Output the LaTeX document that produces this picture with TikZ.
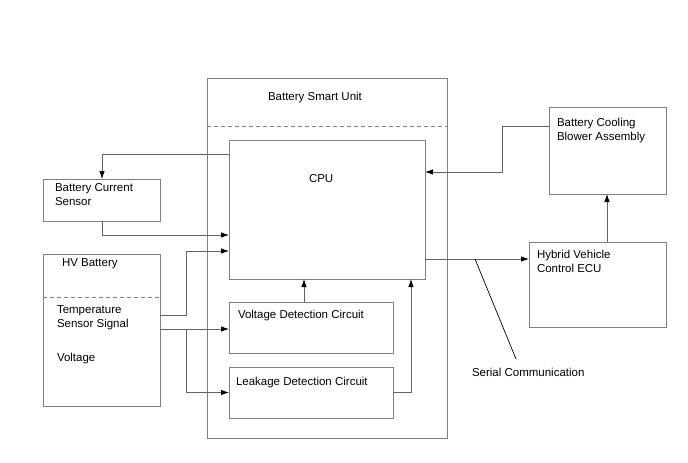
\documentclass[tikz,border=0pt]{standalone}
\usepackage{fontspec}
\setmainfont{Liberation Sans}
\usetikzlibrary{arrows.meta}
\definecolor{boxgray}{RGB}{128,128,128}
\definecolor{linegray}{RGB}{100,100,100}
\begin{document}
\begin{tikzpicture}[x=1pt,y=-1pt,
  box/.style={draw=boxgray,line width=0.9pt,anchor=north west,inner sep=0,outer sep=0},
  lbl/.style={anchor=north west,inner sep=0,outer sep=0,align=left,font=\fontsize{11.5}{14}\selectfont,text=black},
  conn/.style={draw=linegray,line width=0.8pt},
  arr/.style={conn,-{Latex[length=8pt,width=5.5pt,color=black]}},
  sepline/.style={draw=boxgray,line width=0.8pt,dash pattern=on 4pt off 3pt}]
\useasboundingbox (0,0) rectangle (688,463);
% boxes
\node[box,minimum width=240,minimum height=360] (bsu) at (207,78) {};
\node[box,minimum width=196,minimum height=139] (cpu) at (229,140) {};
\node[box,minimum width=164,minimum height=51] (vdc) at (229,302) {};
\node[box,minimum width=164,minimum height=51] (ldc) at (229,367) {};
\node[box,minimum width=117,minimum height=42] (bcs) at (43,179) {};
\node[box,minimum width=117,minimum height=152] (hv) at (43,254) {};
\node[box,minimum width=117,minimum height=87] (blw) at (549,107) {};
\node[box,minimum width=137,minimum height=85] (ecu) at (529,242) {};
% dashed separators
\draw[sepline] ([yshift=-48pt]bsu.north west) -- ([yshift=-48pt]bsu.north east);
\draw[sepline] ([yshift=-43pt]hv.north west) -- ([yshift=-43pt]hv.north east);
% labels
\node[lbl] (tbsu) at (268,92) {Battery Smart Unit};
\node[lbl] (tcpu) at (309,174) {CPU};
\node[lbl] (tvdc) at (238,310) {Voltage Detection Circuit};
\node[lbl] (tldc) at (236,377) {Leakage Detection Circuit};
\node[lbl] (tbcs) at (55,183) {Battery Current\\Sensor};
\node[lbl] (thv) at (62,259) {HV Battery};
\node[lbl] (ttemp) at (57,306) {Temperature\\Sensor Signal};
\node[lbl] (tvolt) at (57,353) {Voltage};
\node[lbl] (tblw) at (557,118) {Battery Cooling\\Blower Assembly};
\node[lbl] (tecu) at (537,250) {Hybrid Vehicle\\Control ECU};
\node[lbl] (tser) at (472,368) {Serial Communication};
% connection points
\coordinate (cpuA) at ([yshift=-14pt]cpu.north west);
\coordinate (cpuB) at ([yshift=-95pt]cpu.north west);
\coordinate (cpuC) at ([yshift=-111pt]cpu.north west);
\coordinate (cpuD) at ([yshift=-32pt]cpu.north east);
\coordinate (cpuE) at ([yshift=-119pt]cpu.north east);
\coordinate (bcsT) at ([xshift=59pt]bcs.north west);
\coordinate (bcsB) at ([xshift=59pt]bcs.south west);
\coordinate (hvA) at ([yshift=-61pt]hv.north east);
\coordinate (hvB) at ([yshift=-75pt]hv.north east);
\coordinate (brA) at ([xshift=26pt]hvA);
\coordinate (brB) at ([xshift=26pt]hvB);
\coordinate (vdcT) at ([xshift=75pt]vdc.north west);
\coordinate (cpuS) at ([xshift=-14pt]cpu.south east);
\coordinate (blwW) at ([yshift=-19pt]blw.north west);
\coordinate (blwJ) at ([xshift=-47pt]blwW);
\coordinate (ecuT) at ([xshift=78pt]ecu.north west);
\coordinate (serA) at (475,259);
\coordinate (serB) at (516,359);
% connectors
\draw[arr] (cpuA) -| (bcsT);
\draw[arr] (bcsB) |- (cpuB);
\draw[arr] (hvA) -- (brA) |- (cpuC);
\draw[arr] (hvB) -- (hvB -| vdc.west);
\draw[arr] (brB) |- (ldc.west);
\draw[arr] (vdcT) -- (vdcT |- cpu.south);
\draw[arr] (ldc.east) -| (cpuS);
\draw[arr] (blwW) -- (blwJ) |- (cpuD);
\draw[arr] (cpuE) -- (cpuE -| ecu.west);
\draw[arr] (ecuT) -- (ecuT |- blw.south);
\draw[conn,draw=black,line width=0.7pt] (serA) -- (serB);
\end{tikzpicture}
\end{document}
